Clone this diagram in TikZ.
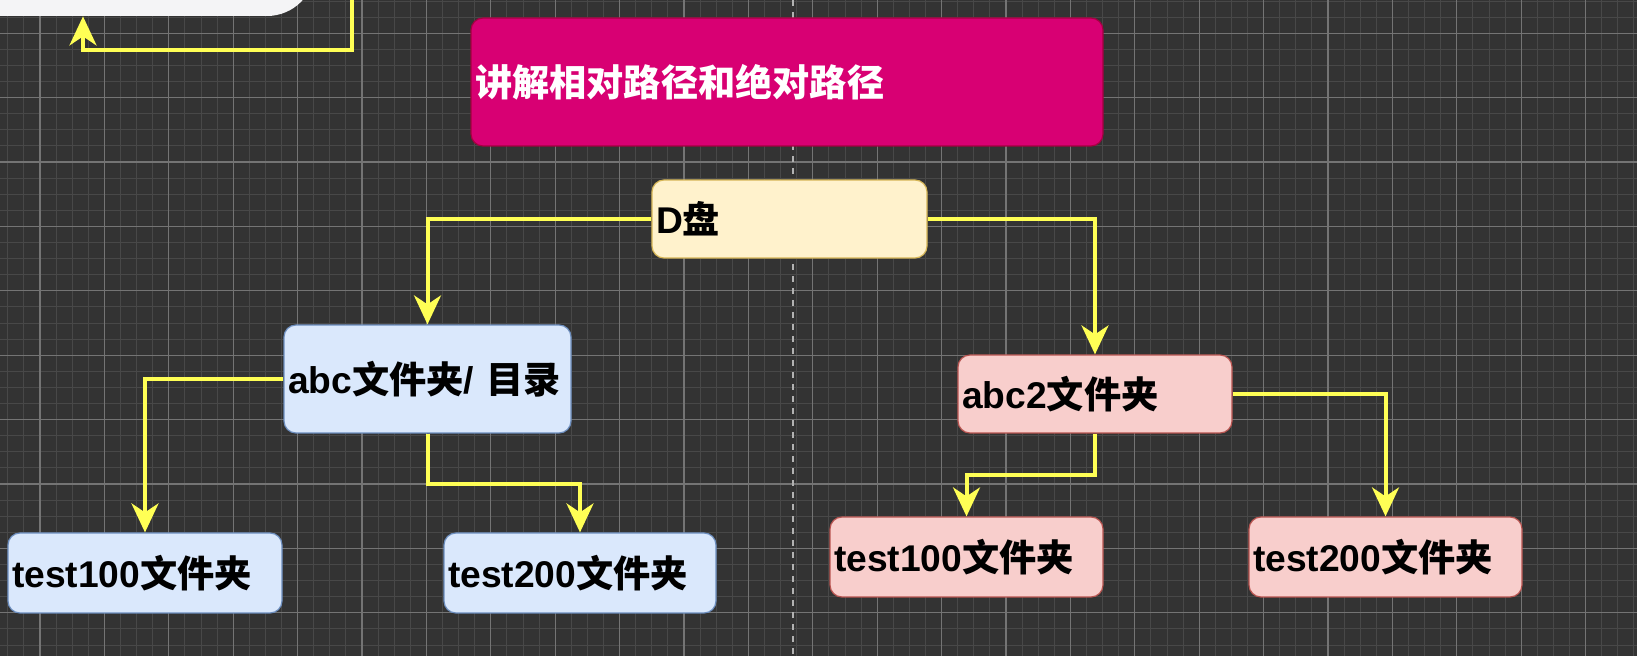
\documentclass[tikz,border=0pt]{standalone}
\usepackage{fontspec}
\setmainfont{Liberation Sans}
\newfontfamily\cjk{Noto Sans CJK SC}
\usetikzlibrary{arrows.meta}
\definecolor{bgc}{HTML}{333333}
\definecolor{minorc}{HTML}{484848}
\definecolor{majorc}{HTML}{747474}
\definecolor{ttl}{HTML}{D80073}
\definecolor{ttlb}{HTML}{A50040}
\definecolor{dfill}{HTML}{FFF2CC}
\definecolor{dline}{HTML}{D6B656}
\definecolor{bfill}{HTML}{DAE8FC}
\definecolor{bline}{HTML}{6C8EBF}
\definecolor{rfill}{HTML}{F8CECC}
\definecolor{rline}{HTML}{B85450}
\definecolor{yel}{HTML}{FFFF55}
\definecolor{paper}{HTML}{F4F4F6}
\tikzset{
  box/.style={draw, line width=0.6pt, rounded corners=6pt, inner xsep=2pt, inner ysep=0pt,
    align=left, font=\bfseries\fontsize{18.6}{22}\selectfont, text=black},
  ybox/.style={box, fill=dfill, draw=dline},
  bbox/.style={box, fill=bfill, draw=bline},
  rbox/.style={box, fill=rfill, draw=rline},
  paperbox/.style={fill=paper, draw=none, rounded corners=24pt, inner sep=0pt},
  conn/.style={draw=yel, line width=2pt, -{Stealth[length=14.5pt,width=13.5pt,inset=4.5pt]}},
  minorline/.style={draw=minorc, line width=0.5pt},
  majorline/.style={draw=majorc, line width=0.6pt},
}
\begin{document}
\begin{tikzpicture}[x=0.5pt,y=-0.5pt]
\useasboundingbox (0,0) rectangle (1637,656);
\begin{scope}
\clip (0,0) rectangle (1637,656);
\fill[bgc] (0,0) rectangle (1637,656);
\foreach \k in {-2,...,99} \draw[minorline] ({40+16.1*\k},0) -- ({40+16.1*\k},656);
\foreach \k in {-2,...,38} \draw[minorline] (0,{33.3+16.1*\k}) -- (1637,{33.3+16.1*\k});
\foreach \k in {0,...,24} \draw[majorline] ({40+64.4*\k},0) -- ({40+64.4*\k},656);
\foreach \k in {0,...,9} \draw[majorline] (0,{33.3+64.4*\k}) -- (1637,{33.3+64.4*\k});
\draw[draw=gray!60!white, line width=0.6pt, dash pattern=on 3pt off 3pt] (793,0) -- (793,656);

\node[paperbox, minimum width=257.5pt, minimum height=108pt] (prev) at (57.5,-92) {};
\node[paperbox, minimum width=200pt, minimum height=150pt] (next) at (1818,800) {};
\coordinate (topin) at (352,-20);
\coordinate (bend) at (83,50);
\draw[conn] (topin) |- (bend) -- (bend |- prev.south);
\end{scope}

\node[box, fill=ttl, draw=ttlb, text=white, text width=312pt, minimum height=64pt] (title) at (787,82) {\cjk 讲解相对路径和绝对路径};
\node[ybox, text width=133.5pt, minimum height=39pt] (D) at (789.5,219) {D{\cjk 盘}};
\node[bbox, text width=139.5pt, minimum height=54pt] (abc) at (427.5,379) {abc{\cjk 文件夹}/ {\cjk 目录}};
\node[bbox, text width=133pt, minimum height=40pt] (t1L) at (145,573) {test100{\cjk 文件夹}};
\node[bbox, text width=132pt, minimum height=40pt] (t2L) at (580,573) {test200{\cjk 文件夹}};
\node[rbox, text width=133pt, minimum height=39pt] (abc2) at (1095,394) {abc2{\cjk 文件夹}};
\node[rbox, text width=132.5pt, minimum height=40pt] (t1R) at (966.5,557) {test100{\cjk 文件夹}};
\node[rbox, text width=132.5pt, minimum height=40pt] (t2R) at (1385.5,557) {test200{\cjk 文件夹}};

\draw[conn] (D.west) -| (abc.north);
\draw[conn] (D.east) -| (abc2.north);
\draw[conn] (abc.west) -| (t1L.north);
\draw[conn] (abc.south) -- ++(0,50) -| (t2L.north);
\draw[conn] (abc2.south) -- ++(0,41) -| (t1R.north);
\draw[conn] (abc2.east) -| (t2R.north);
\end{tikzpicture}
\end{document}
